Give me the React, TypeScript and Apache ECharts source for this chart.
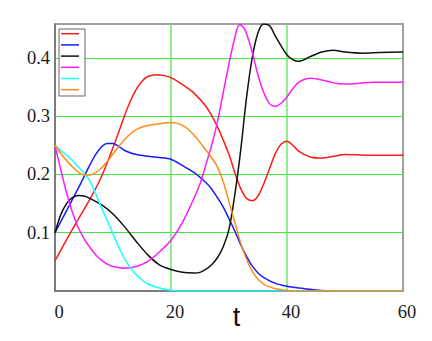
import React, { useEffect, useRef } from "react";
import * as echarts from "echarts";

const xTicks = [0, 20, 40, 60];
const yTicks = [0.1, 0.2, 0.3, 0.4];

const redData = [[0,0.052],[2,0.088],[4,0.123],[6,0.157],[8,0.196],[10,0.246],[11,0.273],[12,0.301],[13,0.326],[14,0.346],[15,0.36],[16,0.368],[17.5,0.371],[19,0.369],[20,0.366],[22,0.354],[24,0.339],[26,0.317],[27,0.301],[28,0.282],[29,0.259],[30,0.234],[31,0.203],[32,0.176],[33,0.159],[34,0.155],[35,0.163],[36,0.184],[37,0.21],[38,0.236],[39,0.252],[40,0.257],[41,0.25],[42,0.24],[44,0.23],[46,0.228],[48,0.231],[50,0.234],[55,0.233],[60,0.233]];
const blueData = [[0,0.1],[2,0.138],[4,0.176],[6,0.216],[7,0.234],[8,0.247],[9,0.253],[10,0.253],[11,0.248],[12,0.241],[14,0.234],[16,0.231],[18,0.229],[20,0.226],[22,0.215],[24,0.203],[26,0.186],[27,0.175],[28,0.16],[29,0.144],[30,0.124],[31,0.103],[32,0.08],[33,0.06],[34,0.043],[35,0.031],[36,0.023],[38,0.013],[40,0.008],[42,0.005],[44,0.003],[46,0.001],[48,0],[60,0]];
const blackData = [[0,0.1],[1,0.131],[2,0.15],[3,0.16],[4,0.164],[5,0.163],[6,0.159],[8,0.148],[10,0.132],[12,0.11],[14,0.085],[16,0.062],[18,0.045],[20,0.037],[22,0.032],[24,0.031],[25,0.032],[26,0.037],[27,0.045],[28,0.057],[29,0.076],[30,0.106],[31,0.165],[32,0.24],[33,0.33],[34,0.4],[35,0.443],[36,0.458],[37,0.455],[38,0.437],[39,0.42],[40,0.405],[41,0.397],[42,0.394],[43,0.397],[44,0.402],[46,0.41],[48,0.413],[50,0.41],[53,0.408],[56,0.409],[60,0.41]];
const magentaData = [[0,0.249],[1,0.208],[2,0.168],[3,0.135],[4,0.109],[5,0.09],[6,0.075],[7,0.062],[8,0.053],[9,0.046],[10,0.042],[12,0.039],[14,0.042],[16,0.051],[18,0.067],[20,0.087],[22,0.118],[24,0.16],[25,0.184],[26,0.216],[27,0.25],[28,0.29],[29,0.34],[30,0.39],[31,0.435],[31.8,0.457],[32.5,0.452],[33,0.442],[34,0.41],[35,0.37],[36,0.34],[37,0.321],[38,0.317],[39,0.322],[40,0.333],[41,0.347],[42,0.358],[44,0.365],[46,0.362],[48,0.357],[50,0.355],[55,0.358],[60,0.358]];
const cyanData = [[0,0.25],[1,0.241],[2,0.233],[3,0.224],[4,0.213],[5,0.202],[6,0.189],[7,0.167],[8,0.143],[9,0.121],[10,0.098],[11,0.075],[12,0.055],[13,0.04],[14,0.028],[15,0.019],[16,0.012],[18,0.005],[20,0.001],[22,0],[60,0]];
const orangeData = [[0,0.25],[1,0.236],[2,0.224],[3,0.213],[4,0.204],[5,0.199],[6,0.199],[7,0.203],[8,0.211],[9,0.222],[10,0.235],[12,0.26],[14,0.277],[16,0.284],[18,0.287],[20,0.289],[21,0.288],[22,0.284],[23,0.277],[24,0.267],[25,0.255],[26,0.242],[27,0.229],[28,0.213],[29,0.188],[30,0.153],[31,0.118],[32,0.083],[33,0.055],[34,0.034],[35,0.02],[36,0.012],[37,0.007],[38,0.004],[40,0.001],[42,0],[60,0]];

const seriesList = [
  { name: "red", color: "#ff1a1a", data: redData },
  { name: "blue", color: "#1a1aff", data: blueData },
  { name: "black", color: "#111111", data: blackData },
  { name: "magenta", color: "#ff1aff", data: magentaData },
  { name: "cyan", color: "#1affff", data: cyanData },
  { name: "orange", color: "#ff8c1a", data: orangeData },
];

const serifFont = '"Liberation Serif", "Times New Roman", serif';
const gridGreen = "#44e444";
const gridGreenV = "#66ec66";

export default function App() {
  const ref = useRef<HTMLDivElement>(null);
  useEffect(() => {
    if (!ref.current) return;
    const chart = echarts.init(ref.current, null, { renderer: "svg" });
    const legendLines = seriesList.map((s, i) => ({
      type: "line",
      z: 101,
      shape: { x1: 61, y1: 33.7 + i * 11.2, x2: 79, y2: 33.7 + i * 11.2 },
      style: { stroke: s.color, lineWidth: 1.5 },
    }));
    chart.setOption({
      animation: false,
      backgroundColor: "#ffffff",
      grid: {
        left: 55,
        right: 29,
        top: 24,
        bottom: 50,
        show: true,
        borderColor: "#a0a0a0",
        borderWidth: 2,
        backgroundColor: "transparent",
      },
      xAxis: {
        type: "value",
        min: 0,
        max: 60,
        interval: 20,
        axisLine: { show: true, onZero: false, lineStyle: { color: "#707070", width: 1.5 } },
        axisTick: { show: false },
        splitLine: { show: true, showMinLine: false, showMaxLine: false, lineStyle: { color: gridGreenV, width: 1.5 } },
        axisLabel: {
          color: "#1a1a1a",
          fontFamily: serifFont,
          fontSize: 18.5,
          margin: 11,
          padding: [0, 0, 0, 8],
          formatter: (v: number) => (xTicks.includes(v) ? String(v) : ""),
        },
      },
      yAxis: {
        type: "value",
        min: 0,
        max: 0.458,
        interval: 0.1,
        axisLine: { show: true, onZero: false, lineStyle: { color: "#707070", width: 1.5 } },
        axisTick: { show: false },
        splitLine: { show: true, showMinLine: false, showMaxLine: false, lineStyle: { color: gridGreen, width: 1.2 } },
        axisLabel: {
          color: "#1a1a1a",
          fontFamily: serifFont,
          fontSize: 18.5,
          margin: 5,
          showMinLabel: false,
          showMaxLabel: false,
          formatter: (v: number) => {
            const f = yTicks.find((t) => Math.abs(t - v) < 1e-6);
            return f !== undefined ? f.toFixed(1) : "";
          },
        },
      },
      series: seriesList.map((s) => ({
        type: "line",
        name: s.name,
        data: s.data,
        showSymbol: false,
        symbol: "none",
        smooth: 0.3,
        lineStyle: { color: s.color, width: 1.5 },
        itemStyle: { color: s.color },
      })),
      graphic: [
        {
          type: "rect",
          z: 100,
          shape: { x: 59, y: 29, width: 26, height: 67 },
          style: { fill: "#ffffff", stroke: "#666666", lineWidth: 1 },
        },
        ...legendLines,
        {
          type: "text",
          z: 100,
          style: {
            text: "t",
            x: 236.5,
            y: 316.5,
            fontSize: 27,
            fontFamily: '"Liberation Sans", Arial, sans-serif',
            fill: "#111111",
            align: "center",
            verticalAlign: "middle",
          },
        },
      ],
    });
    return () => chart.dispose();
  }, []);
  return <div ref={ref} style={{ width: 432, height: 341, position: "absolute", left: 0, top: 0 }} />;
}
